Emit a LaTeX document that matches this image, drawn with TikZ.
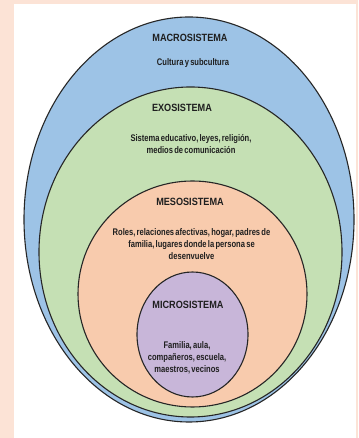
\documentclass[tikz,border=0pt]{standalone}
\usepackage{fontspec}
\setmainfont{Liberation Sans}[FakeStretch=0.87, WordSpace=0.6]
\newfontfamily\bodyfont{Liberation Sans}[FakeStretch=0.79, WordSpace=0.6]
\usetikzlibrary{shapes.geometric,positioning}
\definecolor{pagepeach}{HTML}{FCE3D6}
\definecolor{macroblue}{HTML}{9DC3E6}
\definecolor{exogreen}{HTML}{C5E0B4}
\definecolor{mesoorange}{HTML}{F8CBAD}
\definecolor{micropurple}{HTML}{C8B6D9}
\definecolor{textgray}{HTML}{1F1F1F}
\tikzset{
	sphere/.style={
		ellipse,
		draw=black!85,
		line width=1.1pt,
		inner sep=0pt,
		outer sep=0pt
	}
}

\begin{document}
\begin{tikzpicture}[x=1pt,y=1pt]
		\tikzstyle{title}=[font=\fontsize{10.5}{12}\selectfont\bfseries, text=textgray, inner sep=0pt]
		\tikzstyle{body}=[font=\bodyfont\fontsize{9.6}{12}\selectfont\bfseries, text=textgray, inner sep=0pt, align=center]
		\fill[pagepeach] (0,0) rectangle (358,438);
		\fill[white] (14,0) rectangle (356,434);
		\useasboundingbox (0,0) rectangle (358,438);
		
		\node[sphere, fill=macroblue]   (macro) [minimum width=330pt, minimum height=405pt] at (189,218.5) {};
		\node[sphere, fill=exogreen]    (exo)   [minimum width=303pt, minimum height=330pt] at (190.5,186) {};
		\node[sphere, fill=mesoorange]  (meso)  [minimum width=229pt, minimum height=226pt] at (192.5,144) {};
		\node[sphere, fill=micropurple] (micro) [minimum width=111pt, minimum height=125pt] at (192.5,103.5) {};
		
		\node[title] (macrotitle) [below=17.25pt of macro.north, xshift=1pt] {MACROSISTEMA};
		\node[body]  (macrotext)  [below=16.6pt of macrotitle, xshift=3pt] {Cultura y subcultura};
		
		\node[title] (exotitle) [below=17.25pt of exo.north, xshift=-8.5pt] {EXOSISTEMA};
		\node[body]  (exotext)  [below=22.5pt of exotitle, xshift=9pt] {Sistema educativo, leyes, religión,\\medios de comunicación};
		
		\node[title] (mesotitle) [below=17.25pt of meso.north, xshift=-2.5pt] {MESOSISTEMA};
		\node[body]  (mesotext)  [below=22.6pt of mesotitle, xshift=1.5pt] {Roles, relaciones afectivas, hogar, padres de\\familia, lugares donde la persona se\\desenvuelve};
		
		\node[title] (microtitle) [below=29.25pt of micro.north, xshift=-4.5pt] {MICROSISTEMA};
		\node[body]  (microtext)  [below=32.6pt of microtitle, xshift=-1pt] {Familia, aula,\\compañeros, escuela,\\maestros, vecinos};
		
		\end{tikzpicture}
\end{document}
